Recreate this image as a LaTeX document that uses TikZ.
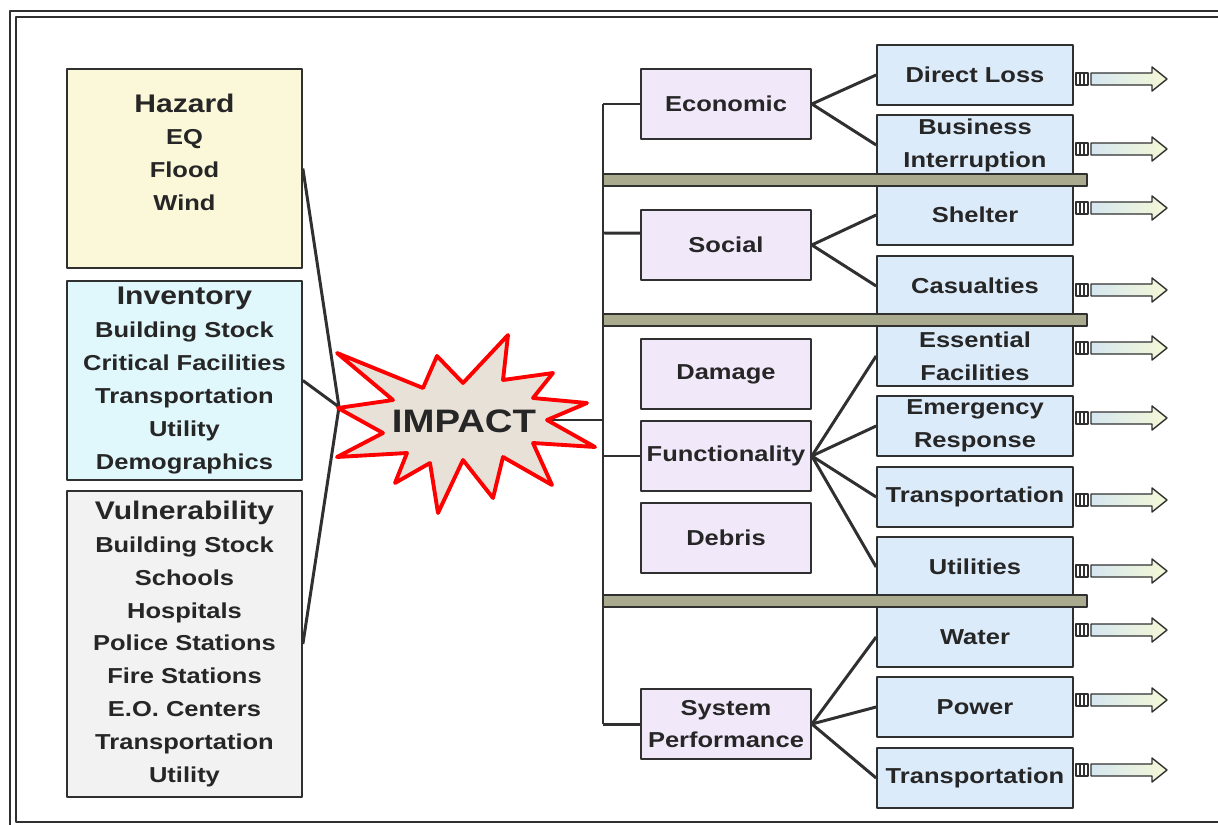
\documentclass[tikz,border=0pt]{standalone}
\usepackage{fontspec}
\setmainfont{Liberation Sans}[FakeStretch=1.18]
\usetikzlibrary{calc}
\definecolor{linegray}{HTML}{303030}
\definecolor{textgray}{HTML}{262626}
\definecolor{hazardfill}{HTML}{FBF8DA}
\definecolor{inventfill}{HTML}{E0F7FB}
\definecolor{vulnfill}{HTML}{F2F2F2}
\definecolor{midfill}{HTML}{F1E8FA}
\definecolor{rightfill}{HTML}{DCEBFA}
\definecolor{barfill}{HTML}{A9AA8E}
\definecolor{starfill}{HTML}{E8E1D8}
\definecolor{arrowleft}{HTML}{D6E6F0}
\definecolor{arrowright}{HTML}{F4F8D6}
\newcommand{\bodyfont}{\bfseries\fontsize{12.3}{18.7}\selectfont}
\newcommand{\headfont}{\fontsize{14.5}{18.7}\selectfont}
\tikzset{
  box/.style={draw=linegray, line width=1pt, inner sep=0pt, align=center, text=textgray, font=\bodyfont},
  leftbox/.style={box, minimum width=4.7cm},
  midbox/.style={box, fill=midfill, minimum width=3.4cm, minimum height=1.4cm},
  rightbox/.style={box, fill=rightfill, minimum width=3.92cm, minimum height=1.2cm},
  link/.style={draw=linegray, line width=1.7pt},
  sepbar/.style={draw=linegray, line width=0.8pt, fill=barfill},
  outarrow/.style={draw=linegray, line width=0.8pt, left color=arrowleft, right color=arrowright},
}
\begin{document}
\begin{tikzpicture}[x=0.02cm,y=-0.02cm,line join=round]
  \useasboundingbox (0,0) rectangle (1218,825);
  \clip (0,0) rectangle (1218,825);
  % cadre double
  \draw[linegray, line width=1.4pt] (10,11) rectangle (1240,830);
  \draw[linegray, line width=0.9pt] (16,17) rectangle (1234,822);
  % colonne de gauche
  \node[leftbox, fill=hazardfill, minimum height=3.98cm] (hazard) at (184.5,168.5)
    {{\headfont Hazard}\\EQ\\Flood\\Wind\\\mbox{}};
  \node[leftbox, fill=inventfill, minimum height=3.98cm] (inventory) at (184.5,380.5)
    {{\headfont Inventory}\\Building Stock\\Critical Facilities\\Transportation\\Utility\\Demographics};
  \node[leftbox, fill=vulnfill, minimum height=6.12cm] (vulner) at (184.5,644)
    {{\headfont Vulnerability}\\Building Stock\\Schools\\Hospitals\\Police Stations\\Fire Stations\\E.O. Centers\\Transportation\\Utility};
  \coordinate (hub) at (339,407);
  \coordinate (trunktop) at (603,104);
  \coordinate (trunkbot) at (603,724);
  \draw[link] (hazard.east) -- (hub) (inventory.east) -- (hub) (vulner.east) -- (hub);
  % etoile
  \draw[link] (545,420) -- (603,420);
  \draw[red, line width=2.2pt, fill=starfill]
    (337,353) -- (423,388) -- (437,356) -- (463,383) -- (508,335) -- (503,380)
    -- (553,373) -- (533,398) -- (587,403) -- (547,420) -- (595,447) -- (533,443)
    -- (552,485) -- (503,457) -- (493,498) -- (463,460) -- (438,513) -- (430,463)
    -- (395,483) -- (407,453) -- (337,457) -- (383,433) -- (338,408) -- (393,400) -- cycle;
  \node[text=textgray, font=\bfseries\fontsize{18.5}{20}\selectfont] (impact) at (464,421) {IMPACT};
  % colonne du milieu
  \node[midbox] (economic) at (726,104) {Economic};
  \node[midbox] (social) at (726,245) {Social};
  \node[midbox] (damage) at (726,374) {Damage};
  \node[midbox] (function) at (726,456) {Functionality};
  \node[midbox] (debris) at (726,538) {Debris};
  \node[midbox] (sysperf) at (726,724) {System\\Performance};
  \draw[link] (trunktop) -- (trunkbot);
  \draw[link] (trunktop) -- (economic.west);
  \draw[link] (603,233) -- ([yshift=6.8pt]social.west);
  \draw[link] (603,456) -- (function.west);
  \draw[link] (trunkbot) -- (sysperf.west);
  % colonne de droite
  \node[rightbox] (direct) at (975,75) {Direct Loss};
  \node[rightbox] (business) at (975,145) {Business\\Interruption};
  \node[rightbox] (shelter) at (975,215) {Shelter};
  \node[rightbox] (casualty) at (975,286) {Casualties};
  \node[rightbox] (essential) at (975,356) {Essential\\Facilities};
  \node[rightbox] (emergency) at (975,426) {Emergency\\Response};
  \node[rightbox] (transA) at (975,497) {Transportation};
  \node[rightbox] (utilities) at (975,567) {Utilities};
  \node[rightbox] (water) at (975,637) {Water};
  \node[rightbox] (power) at (975,707) {Power};
  \node[rightbox] (transB) at (975,778) {Transportation};
  \draw[link] (economic.east) -- (direct.west) (economic.east) -- (business.west);
  \draw[link] (social.east) -- (shelter.west) (social.east) -- (casualty.west);
  \foreach \n in {essential,emergency,transA,utilities}
    \draw[link] (function.east) -- (\n.west);
  \foreach \n in {water,power,transB}
    \draw[link] (sysperf.east) -- (\n.west);
  % barres de separation
  \draw[sepbar] (603,174) rectangle (1087,186);
  \draw[sepbar] (603,314) rectangle (1087,326);
  \draw[sepbar] (603,595) rectangle (1087,607);
  % fleches de sortie
  \foreach \y in {79,149,208,290,348,418,500,571,630,700,770}{
    \draw[linegray, line width=0.8pt, fill=white] (1076,\y-6) rectangle (1088,\y+6);
    \draw[linegray, line width=0.8pt] (1080,\y-6) -- (1080,\y+6) (1084,\y-6) -- (1084,\y+6);
    \draw[outarrow] (1091,\y-6) -- (1152,\y-6) -- (1152,\y-12) -- (1167,\y)
      -- (1152,\y+12) -- (1152,\y+6) -- (1091,\y+6) -- cycle;
  }
\end{tikzpicture}
\end{document}
